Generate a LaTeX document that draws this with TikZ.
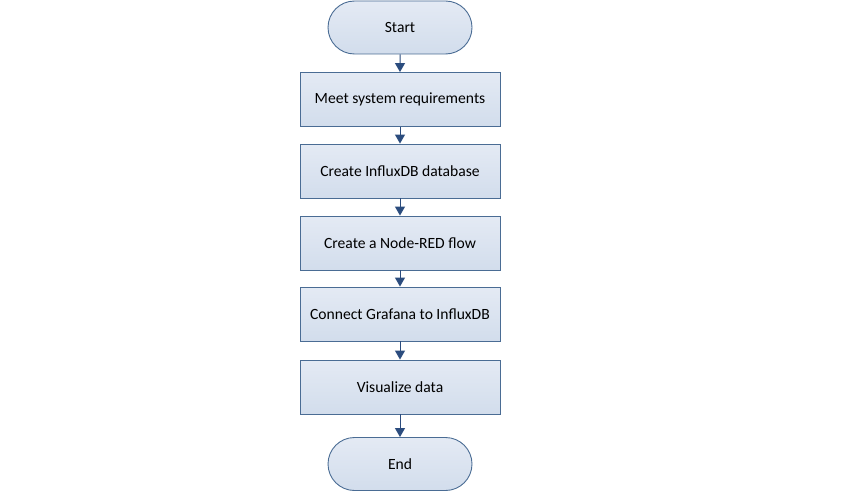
\documentclass[tikz,border=0pt]{standalone}
\usepackage{fontspec}
\setmainfont{Carlito}
\usetikzlibrary{arrows.meta,shapes.misc}
\definecolor{boxline}{HTML}{4A6C94}
\definecolor{arrowc}{HTML}{2B4C7E}
\definecolor{filltop}{HTML}{E4EAF4}
\definecolor{fillbot}{HTML}{D2DDEC}
\tikzset{
  stepbox/.style={draw=boxline, line width=0.9pt, top color=filltop, bottom color=fillbot,
    minimum width=200pt, minimum height=54pt, inner sep=0pt, font=\fontsize{15.6}{18}\selectfont},
  terminal/.style={stepbox, rounded rectangle, minimum width=144pt, minimum height=53pt},
  conn/.style={draw=arrowc, line width=1pt, -{Triangle[width=10pt,length=9pt]}}
}
\begin{document}
\begin{tikzpicture}[x=1pt,y=-1pt]
\useasboundingbox (0,0) rectangle (842,492);
\node[terminal] (start) at (400,27.5) {Start};
\node[stepbox] (s1) at (400,99.5) {Meet system requirements};
\node[stepbox] (s2) at (400,171) {Create InfluxDB database};
\node[stepbox] (s3) at (400,243) {Create a Node-RED flow};
\node[stepbox] (s4) at (400,314) {Connect Grafana to InfluxDB};
\node[stepbox] (s5) at (400,387) {Visualize data};
\node[terminal] (end) at (400,464) {End};
\draw[conn] (start) -- (s1);
\draw[conn] (s1) -- (s2);
\draw[conn] (s2) -- (s3);
\draw[conn] (s3) -- (s4);
\draw[conn] (s4) -- (s5);
\draw[conn] (s5) -- (end);
\end{tikzpicture}
\end{document}
